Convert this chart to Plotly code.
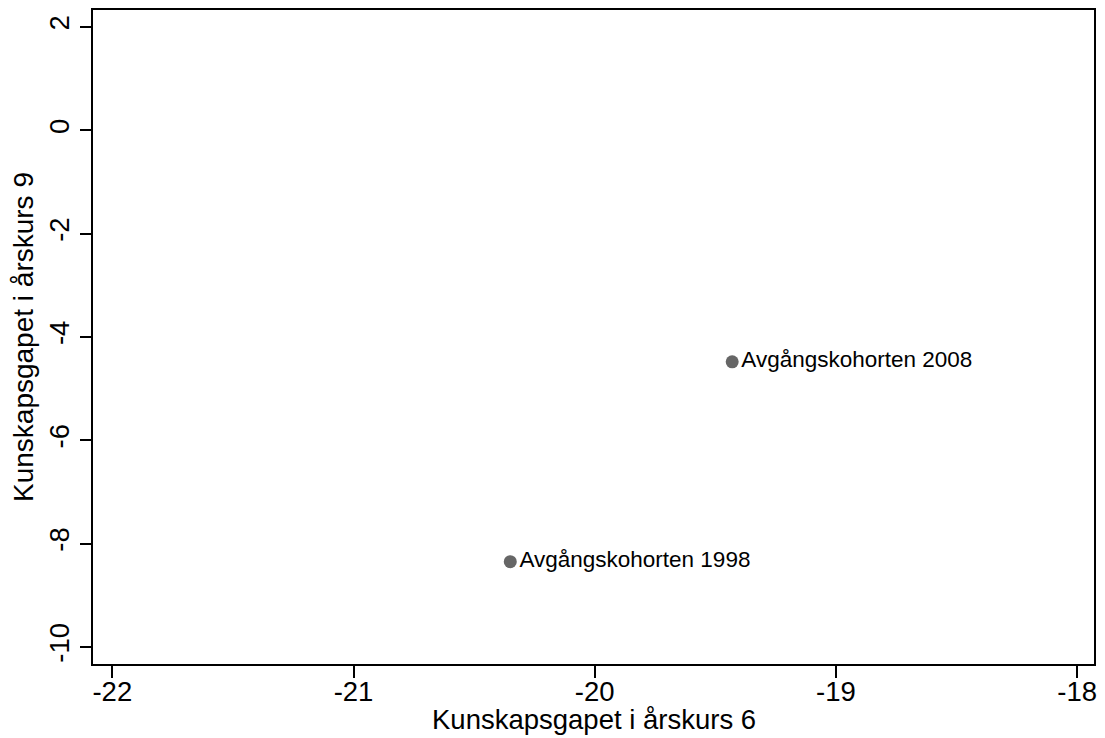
import plotly.graph_objects as go

cohorts = ["Avgångskohorten 1998", "Avgångskohorten 2008"]
gap_grade6 = [-20.35, -19.43]
gap_grade9 = [-8.35, -4.48]

x_ticks = [-22, -21, -20, -19, -18]
y_ticks = [2, 0, -2, -4, -6, -8, -10]

x_title = "Kunskapsgapet i årskurs 6"
y_title = "Kunskapsgapet i årskurs 9"

FONT = "Liberation Sans, Arial, sans-serif"

fig = go.Figure()
fig.add_trace(go.Scatter(
    x=gap_grade6, y=gap_grade9, mode="markers+text",
    text=cohorts, textposition="middle right",
    textfont=dict(family=FONT, size=22.5, color="black"),
    marker=dict(color="#666666", size=13),
    showlegend=False, cliponaxis=False,
))

fig.update_layout(
    width=1105, height=738,
    margin=dict(l=93, r=11, t=10, b=74),
    paper_bgcolor="white", plot_bgcolor="white",
    font=dict(family=FONT, color="black"),
    annotations=[
        dict(text=x_title, xref="paper", yref="paper", x=0.5, y=0,
             xanchor="center", yanchor="middle", yshift=-55, showarrow=False,
             font=dict(size=27.5, color="black")),
        dict(text=y_title, xref="paper", yref="paper", x=0, y=0.5,
             xanchor="center", yanchor="middle", xshift=-70, textangle=-90,
             showarrow=False, font=dict(size=28, color="black")),
    ],
)
fig.update_xaxes(
    range=[-22.08, -17.93], tickvals=x_ticks, ticktext=[str(v) for v in x_ticks],
    showgrid=False, zeroline=False, showline=True, linecolor="black", linewidth=2,
    mirror=True, ticks="outside", ticklen=12, tickwidth=2, tickcolor="black",
    tickfont=dict(size=27.5), automargin=False, ticklabelstandoff=-10,
)
fig.update_yaxes(
    range=[-10.33, 2.33], tickvals=y_ticks, ticktext=[str(v) for v in y_ticks],
    showgrid=False, zeroline=False, showline=True, linecolor="black", linewidth=2,
    mirror=True, ticks="outside", ticklen=11, tickwidth=2, tickcolor="black",
    tickfont=dict(size=27.5), tickangle=-90, automargin=False,
)

fig.write_html("out.html", config={"displayModeBar": False},
               post_script="document.body.style.margin='0';")
